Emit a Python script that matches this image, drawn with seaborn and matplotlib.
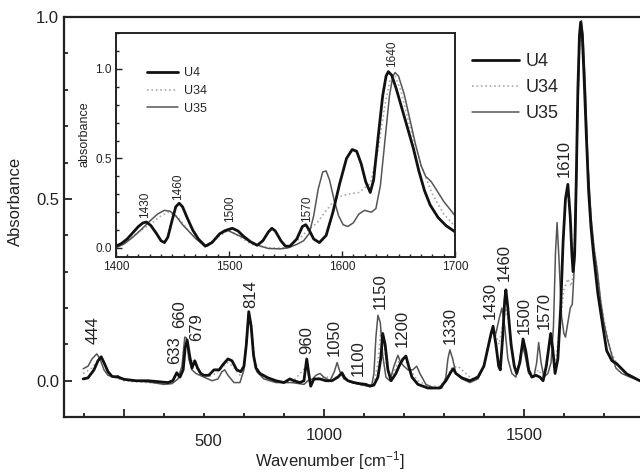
import matplotlib
matplotlib.use("Agg")
import matplotlib.pyplot as plt
import matplotlib.transforms as mtransforms
from matplotlib.ticker import MultipleLocator, FixedLocator
import seaborn as sns

# --- main spectra (wavenumber, absorbance) ---
u4_wn = [398, 410, 425, 435, 443, 450, 460, 470, 485, 500, 530, 560, 590, 610, 622, 632, 640, 648, 653, 658,
         664, 670, 677, 684, 692, 700, 712, 725, 738, 748, 760, 770, 782, 792, 800, 806, 812, 818, 824, 830,
         840, 860, 880, 900, 915, 925, 940, 950, 957, 962, 967, 975, 990, 1005, 1020, 1035, 1045, 1052, 1060, 1075,
         1090, 1105, 1115, 1125, 1135, 1142, 1147, 1153, 1160, 1168, 1180, 1190, 1198, 1205, 1212, 1220, 1235, 1260, 1290, 1305,
         1318, 1323, 1330, 1345, 1365, 1385, 1400, 1410, 1418, 1423, 1430, 1437, 1441, 1447, 1452, 1455, 1460, 1468, 1476, 1482,
         1490, 1498, 1505, 1512, 1520, 1530, 1540, 1548, 1556, 1562, 1567, 1572, 1578, 1585, 1592, 1598, 1604, 1610, 1616, 1620,
         1623, 1627, 1631, 1635, 1639, 1642, 1646, 1650, 1656, 1662, 1668, 1675, 1685, 1698, 1707, 1720, 1732, 1757, 1790]
u4_abs = [0.005, 0.008, 0.03, 0.055, 0.066, 0.05, 0.025, 0.012, 0.01, 0.004, 0.0, 0.0, -0.003, -0.005, 0.0, 0.022, 0.01, 0.03, 0.09, 0.112,
          0.07, 0.035, 0.055, 0.035, 0.02, 0.015, 0.015, 0.03, 0.03, 0.045, 0.06, 0.055, 0.03, 0.025, 0.04, 0.1, 0.19, 0.15, 0.07, 0.035,
          0.02, 0.008, 0.0, -0.005, 0.005, 0.0, -0.005, 0.0, 0.06, 0.02, -0.015, 0.005, 0.005, 0.0, 0.0, 0.01, 0.022, 0.008, 0.0, -0.005,
          -0.008, -0.01, -0.015, -0.012, 0.01, 0.06, 0.13, 0.1, 0.03, 0.0, 0.02, 0.045, 0.06, 0.068, 0.04, 0.01, -0.01, -0.02, -0.02, 0.0,
          0.025, 0.033, 0.02, 0.008, 0.0, 0.01, 0.04, 0.09, 0.13, 0.15, 0.1, 0.04, 0.03, 0.12, 0.22, 0.25, 0.2, 0.1, 0.04, 0.02,
          0.05, 0.115, 0.08, 0.03, 0.01, 0.015, 0.01, 0.0, 0.04, 0.09, 0.13, 0.09, 0.02, 0.06, 0.2, 0.38, 0.5, 0.54, 0.45, 0.35,
          0.3, 0.35, 0.55, 0.8, 0.95, 0.986, 0.95, 0.85, 0.68, 0.52, 0.42, 0.34, 0.24, 0.146, 0.083, 0.055, 0.047, 0.019, 0.0]

u34_wn = [398, 420, 438, 445, 455, 470, 500, 560, 610, 632, 645, 653, 658, 665, 677, 690, 710, 730, 748, 760,
          772, 790, 800, 806, 812, 818, 826, 840, 870, 920, 957, 965, 990, 1035, 1045, 1060, 1100, 1125, 1135, 1142,
          1148, 1158, 1168, 1185, 1200, 1215, 1235, 1260, 1290, 1308, 1320, 1335, 1350, 1370, 1390, 1405, 1420, 1428, 1438, 1447,
          1455, 1462, 1475, 1484, 1497, 1507, 1520, 1537, 1548, 1567, 1578, 1590, 1600, 1610, 1618, 1625, 1632, 1638, 1642, 1647,
          1653, 1660, 1670, 1680, 1692, 1705, 1718, 1735, 1760, 1790]
u34_abs = [0.02, 0.035, 0.06, 0.062, 0.035, 0.012, 0.0, -0.005, -0.008, 0.015, 0.03, 0.1, 0.11, 0.06, 0.045, 0.02, 0.01, 0.02, 0.04, 0.05,
           0.04, 0.015, 0.04, 0.11, 0.19, 0.16, 0.06, 0.015, 0.0, -0.005, 0.04, -0.005, 0.01, 0.01, 0.02, 0.0, -0.015, -0.01, 0.05, 0.14,
           0.12, 0.03, 0.005, 0.05, 0.065, 0.03, 0.0, -0.015, -0.015, 0.01, 0.035, 0.04, 0.025, 0.005, 0.015, 0.06, 0.14, 0.13, 0.1, 0.15,
           0.2, 0.16, 0.05, 0.02, 0.1, 0.06, 0.01, 0.03, 0.01, 0.11, 0.04, 0.15, 0.25, 0.28, 0.26, 0.3, 0.6, 0.9, 0.97, 0.93,
           0.78, 0.58, 0.42, 0.33, 0.22, 0.14, 0.08, 0.04, 0.015, 0.0]

u35_wn = [398, 410, 420, 432, 440, 450, 460, 475, 485, 495, 520, 560, 600, 620, 635, 645, 652, 656, 662, 670,
          680, 700, 720, 735, 745, 752, 760, 775, 790, 800, 806, 812, 818, 824, 832, 850, 880, 920, 950, 960,
          972, 980, 990, 1000, 1015, 1026, 1033, 1040, 1050, 1070, 1090, 1110, 1120, 1125, 1130, 1135, 1141, 1147, 1155, 1165,
          1175, 1185, 1192, 1200, 1210, 1222, 1232, 1240, 1255, 1275, 1295, 1305, 1310, 1315, 1322, 1330, 1345, 1365, 1385, 1400,
          1412, 1422, 1430, 1438, 1445, 1452, 1460, 1470, 1480, 1490, 1496, 1503, 1512, 1525, 1532, 1537, 1543, 1550, 1560, 1568,
          1574, 1579, 1583, 1588, 1594, 1600, 1604, 1610, 1616, 1621, 1628, 1634, 1640, 1644, 1648, 1654, 1660, 1668, 1676, 1684,
          1692, 1700, 1710, 1720, 1730, 1745, 1765, 1790]
u35_abs = [0.033, 0.04, 0.06, 0.074, 0.06, 0.03, 0.015, 0.01, 0.014, 0.005, 0.0, -0.003, -0.01, -0.008, 0.005, 0.04, 0.12, 0.118, 0.06, 0.03,
           0.02, 0.01, 0.0, 0.005, 0.025, 0.03, 0.015, -0.005, -0.005, 0.03, 0.11, 0.18, 0.15, 0.07, 0.025, 0.005, -0.005, -0.005, -0.01, 0.0,
           0.005, 0.015, 0.02, 0.01, 0.0, 0.025, 0.05, 0.025, 0.005, -0.005, -0.01, -0.015, -0.01, 0.02, 0.12, 0.18, 0.16, 0.07, 0.01, 0.0,
           0.04, 0.07, 0.05, 0.04, 0.03, 0.03, 0.04, 0.02, -0.01, -0.02, -0.02, 0.01, 0.06, 0.085, 0.06, 0.02, 0.005, -0.005, 0.005, 0.04,
           0.1, 0.14, 0.13, 0.17, 0.2, 0.15, 0.06, 0.02, 0.01, 0.06, 0.1, 0.07, 0.02, 0.01, 0.05, 0.105, 0.05, 0.01, 0.02, 0.05,
           0.15, 0.35, 0.435, 0.33, 0.18, 0.13, 0.12, 0.16, 0.2, 0.21, 0.35, 0.7, 0.96, 0.99, 0.95, 0.8, 0.6, 0.45, 0.36, 0.3,
           0.22, 0.16, 0.11, 0.07, 0.035, 0.02, 0.01, 0.0]

# --- inset spectra (1400-1700) ---
in_u4_wn = [1400, 1405, 1410, 1415, 1420, 1424, 1427, 1431, 1436, 1440, 1443, 1446, 1450, 1453, 1456, 1459, 1463, 1468, 1473, 1479,
            1485, 1492, 1498, 1503, 1508, 1513, 1519, 1525, 1530, 1535, 1538, 1541, 1546, 1550, 1554, 1560, 1565, 1568, 1571, 1575,
            1580, 1586, 1592, 1598, 1604, 1609, 1613, 1617, 1621, 1625, 1628, 1632, 1636, 1639, 1641, 1644, 1648, 1653, 1658, 1663,
            1668, 1673, 1678, 1685, 1692, 1700]
in_u4_abs = [0.01, 0.025, 0.05, 0.085, 0.12, 0.14, 0.145, 0.125, 0.08, 0.04, 0.03, 0.06, 0.16, 0.23, 0.25, 0.23, 0.17, 0.1, 0.05, 0.01,
             0.03, 0.08, 0.1, 0.11, 0.095, 0.065, 0.035, 0.015, 0.04, 0.09, 0.11, 0.095, 0.04, 0.01, 0.01, 0.05, 0.12, 0.13, 0.1, 0.05,
             0.03, 0.07, 0.2, 0.36, 0.5, 0.55, 0.54, 0.47, 0.37, 0.31, 0.38, 0.62, 0.85, 0.96, 0.985, 0.965, 0.89, 0.78, 0.67, 0.56,
             0.43, 0.32, 0.24, 0.17, 0.125, 0.09]

in_u34_wn = [1400, 1410, 1420, 1430, 1440, 1447, 1455, 1465, 1475, 1482, 1490, 1500, 1510, 1520, 1535, 1550, 1562, 1570, 1578, 1585,
             1595, 1605, 1615, 1625, 1632, 1638, 1643, 1647, 1652, 1660, 1670, 1680, 1690, 1700]
in_u34_abs = [0.01, 0.04, 0.09, 0.13, 0.18, 0.2, 0.17, 0.09, 0.03, 0.02, 0.06, 0.1, 0.06, 0.02, 0.0, 0.0, 0.05, 0.1, 0.14, 0.2,
              0.28, 0.3, 0.31, 0.36, 0.55, 0.8, 0.95, 0.96, 0.88, 0.68, 0.46, 0.3, 0.19, 0.12]

in_u35_wn = [1400, 1408, 1415, 1422, 1430, 1437, 1443, 1448, 1453, 1459, 1465, 1471, 1477, 1481, 1486, 1491, 1496, 1500, 1505, 1512,
             1520, 1528, 1535, 1545, 1552, 1560, 1566, 1571, 1575, 1579, 1583, 1586, 1589, 1593, 1597, 1601, 1605, 1610, 1615, 1620,
             1626, 1630, 1634, 1638, 1642, 1645, 1647, 1650, 1655, 1660, 1665, 1670, 1674, 1679, 1684, 1690, 1695, 1700]
in_u35_abs = [0.0, 0.025, 0.06, 0.1, 0.15, 0.19, 0.21, 0.205, 0.18, 0.13, 0.09, 0.05, 0.02, 0.01, 0.035, 0.075, 0.1, 0.095, 0.08, 0.06,
              0.03, 0.01, -0.003, -0.005, 0.0, 0.02, 0.04, 0.08, 0.18, 0.33, 0.425, 0.43, 0.38, 0.27, 0.18, 0.13, 0.12, 0.14, 0.19, 0.21,
              0.2, 0.22, 0.35, 0.6, 0.85, 0.96, 0.98, 0.96, 0.86, 0.72, 0.58, 0.46, 0.4, 0.37, 0.32, 0.26, 0.22, 0.18]

# peak labels: text, x, bottom y
main_peaks = ["444", "633", "660", "679", "814", "960", "1050", "1100", "1150", "1200", "1330",
              "1430", "1460", "1500", "1570", "1610"]
main_peak_x = [422, 627, 640, 682, 817, 957, 1027, 1085, 1140, 1195, 1315, 1415, 1452, 1500, 1552, 1600]
main_peak_y = [0.102, 0.047, 0.146, 0.110, 0.201, 0.074, 0.069, 0.014, 0.198, 0.094, 0.102, 0.171, 0.275, 0.129, 0.143, 0.559]

inset_peaks = ["1430", "1460", "1500", "1570", "1640"]
inset_peak_x = [1426, 1455, 1501, 1569, 1644]
inset_peak_y = [0.168, 0.268, 0.145, 0.145, 1.011]

sns.set_style("ticks")
plt.rcParams["font.family"] = ["Liberation Sans", "DejaVu Sans"]
plt.rcParams["mathtext.fontset"] = "custom"
plt.rcParams["mathtext.rm"] = "Liberation Sans"
plt.rcParams["mathtext.it"] = "Liberation Sans"
text_col = "#222222"

styles = {
    "U4": dict(color="#111111", lw=2.0, linestyle="-"),
    "U34": dict(color="#aaaaaa", lw=1.2, linestyle=":"),
    "U35": dict(color="#555555", lw=1.1, linestyle="-"),
}

fig = plt.figure(figsize=(6.4, 4.74), dpi=100)
ax = fig.add_axes([0.1, 0.12, 0.906, 0.844])

for name, xs, ys in [("U34", u34_wn, u34_abs), ("U35", u35_wn, u35_abs), ("U4", u4_wn, u4_abs)]:
    sns.lineplot(x=xs, y=ys, ax=ax, label=name, **styles[name])

ax.set_xlim(350, 1800)
ax.set_ylim(-0.1, 1.0)
ax.xaxis.set_major_locator(FixedLocator([500, 1000, 1500]))
ax.set_xticklabels(["", "1000", "1500"])
ax.xaxis.set_minor_locator(MultipleLocator(100))
ax.yaxis.set_major_locator(MultipleLocator(0.5))
ax.yaxis.set_minor_locator(MultipleLocator(0.1))
ax.yaxis.set_major_formatter(plt.FuncFormatter(lambda v, p: f"{v:.1f}"))
ax.tick_params(which="both", direction="in", width=1.3, labelsize=12, colors=text_col)
ax.tick_params(which="major", length=6)
ax.tick_params(which="minor", length=3)
ax.tick_params(axis="x", pad=8)
for s in ax.spines.values():
    s.set_linewidth(1.6)
    s.set_color(text_col)

# the "500" label sits right of its tick in the original
trans = mtransforms.blended_transform_factory(ax.transData, ax.transAxes)
ax.text(710, -0.06, "500", transform=trans, ha="center", va="center", fontsize=12, color=text_col)

ax.set_xlabel("Wavenumber [cm$^{-1}$]", fontsize=12, color=text_col)
ax.xaxis.set_label_coords(0.459, -0.08)
ax.set_ylabel("Absorbance", fontsize=12, color=text_col)
ax.yaxis.set_label_coords(-0.07, 0.54)

for t, x, y in zip(main_peaks, main_peak_x, main_peak_y):
    ax.text(x, y, t, rotation=90, ha="center", va="bottom", fontsize=12, color=text_col)

handles, labels = ax.get_legend_handles_labels()
order = [labels.index(n) for n in ["U4", "U34", "U35"]]
ax.legend([handles[i] for i in order], [labels[i] for i in order], loc="upper left",
          bbox_to_anchor=(0.703, 0.91), frameon=False, fontsize=13, handlelength=2.6,
          handletextpad=0.4, labelspacing=0.5, borderpad=0, borderaxespad=0)

# --- inset ---
ins = fig.add_axes([0.181, 0.458, 0.530, 0.472])
for name, xs, ys in [("U34", in_u34_wn, in_u34_abs), ("U35", in_u35_wn, in_u35_abs), ("U4", in_u4_wn, in_u4_abs)]:
    sns.lineplot(x=xs, y=ys, ax=ins, label=name, **styles[name])

ins.set_xlim(1400, 1700)
ins.set_ylim(-0.05, 1.2)
ins.xaxis.set_major_locator(MultipleLocator(100))
ins.xaxis.set_minor_locator(MultipleLocator(10))
ins.yaxis.set_major_locator(MultipleLocator(0.5))
ins.yaxis.set_minor_locator(MultipleLocator(0.1))
ins.yaxis.set_major_formatter(plt.FuncFormatter(lambda v, p: f"{v:.1f}"))
ins.tick_params(which="both", direction="in", width=1.0, labelsize=8.5, colors=text_col, pad=3)
ins.tick_params(which="major", length=4)
ins.tick_params(which="minor", length=2)
for s in ins.spines.values():
    s.set_linewidth(1.4)
    s.set_color(text_col)
ins.set_xlabel("")
ins.set_ylabel("absorbance", fontsize=9, color=text_col)
ins.yaxis.set_label_coords(-0.075, 0.55)

for t, x, y in zip(inset_peaks, inset_peak_x, inset_peak_y):
    ins.text(x, y, t, rotation=90, ha="center", va="bottom", fontsize=8.5, color=text_col)

h2, l2 = ins.get_legend_handles_labels()
order2 = [l2.index(n) for n in ["U4", "U34", "U35"]]
ins.legend([h2[i] for i in order2], [l2[i] for i in order2], loc="upper left",
           bbox_to_anchor=(0.091, 0.847), frameon=False, fontsize=9, handlelength=2.5,
           handletextpad=0.5, labelspacing=0.45, borderpad=0, borderaxespad=0)

fig.savefig("out.png", dpi=100)
